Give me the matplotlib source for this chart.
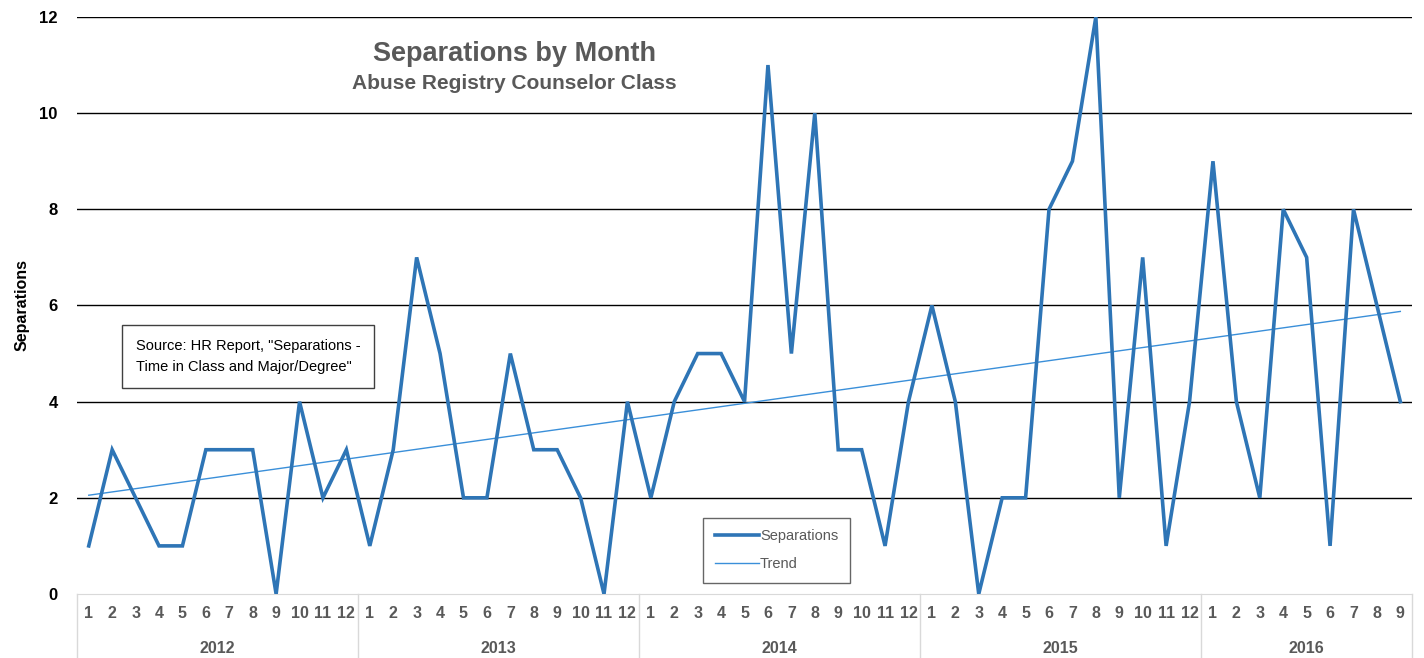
import numpy as np
import matplotlib
matplotlib.use("Agg")
from matplotlib import pyplot as plt
from matplotlib.lines import Line2D

# monthly separations, Jan 2012 .. Sep 2016
years = ["2012", "2013", "2014", "2015", "2016"]
months_per_year = [12, 12, 12, 12, 9]
sep_2012 = [1, 3, 2, 1, 1, 3, 3, 3, 0, 4, 2, 3]
sep_2013 = [1, 3, 7, 5, 2, 2, 5, 3, 3, 2, 0, 4]
sep_2014 = [2, 4, 5, 5, 4, 11, 5, 10, 3, 3, 1, 4]
sep_2015 = [6, 4, 0, 2, 2, 8, 9, 12, 2, 7, 1, 4]
sep_2016 = [9, 4, 2, 8, 7, 1, 8, 6, 4]
yticks = [0, 2, 4, 6, 8, 10, 12]

vals = np.array(sep_2012 + sep_2013 + sep_2014 + sep_2015 + sep_2016, dtype=float)
x = np.arange(len(vals))
month_labels = [str(m) for n in months_per_year for m in range(1, n + 1)]

# linear trend line (least squares, like Excel's trendline)
k, b = np.polyfit(x, vals, 1)
trend = k * x + b

plt.rcParams['font.family'] = ['Liberation Sans', 'DejaVu Sans']
gray = '#595959'
blue = '#2E75B6'

fig = plt.figure(figsize=(14.24, 6.58), dpi=100)
ax = fig.add_axes([0.0541, 0.0973, 0.9375, 0.8769])

for t in yticks[1:]:
    ax.axhline(t, color='black', lw=1.0, zorder=1)
ax.plot(x, vals, color=blue, lw=2.6, zorder=3, solid_joinstyle='miter')
ax.plot(x, trend, color='#3A8FD9', lw=1.0, zorder=2)

ax.set_xlim(-0.5, len(vals) - 0.5)
ax.set_ylim(0, 12)
ax.set_yticks(yticks)
ax.set_yticklabels([str(t) for t in yticks], fontsize=12, fontweight='bold')
ax.tick_params(axis='y', length=0, pad=14)
ax.set_xticks(x)
ax.set_xticklabels(month_labels, fontsize=11.5, fontweight='bold', color=gray)
ax.tick_params(axis='x', length=0, pad=9)
for s in ['top', 'right', 'left']:
    ax.spines[s].set_visible(False)
ax.spines['bottom'].set_color('#D9D9D9')
ax.spines['bottom'].set_zorder(0)

# category axis box and year separators
trans = ax.get_xaxis_transform()
edges = np.concatenate([[0], np.cumsum(months_per_year)]) - 0.5
for e in edges:
    ax.add_line(Line2D([e, e], [0, -0.2], transform=trans, color='#D9D9D9',
                       lw=1.0, clip_on=False))
for i, yr in enumerate(years):
    mid = (edges[i] + edges[i + 1]) / 2
    ax.text(mid, -0.094, yr, transform=trans, ha='center', va='center',
            fontsize=11.5, fontweight='bold', color=gray)

ax.set_ylabel('Separations', fontsize=11.5, fontweight='bold', labelpad=7)

fig.text(0.361, 0.918, 'Separations by Month', ha='center', va='center',
         fontsize=19.5, fontweight='bold', color=gray)
fig.text(0.361, 0.873, 'Abuse Registry Counselor Class', ha='center', va='center',
         fontsize=15, fontweight='bold', color=gray)

fig.text(0.0955, 0.458, 'Source: HR Report, "Separations -\nTime in Class and Major/Degree"',
         ha='left', va='center', fontsize=10.5, linespacing=1.65, color='black',
         bbox=dict(boxstyle='square,pad=0.95', fc='white', ec='#404040', lw=1))

handles = [Line2D([], [], color=blue, lw=2.6), Line2D([], [], color='#3A8FD9', lw=1.0)]
leg = ax.legend(handles, ['Separations', 'Trend'], loc='center',
                bbox_to_anchor=(0.524, 0.076), fontsize=10.5, frameon=True,
                fancybox=False, edgecolor='#404040', handlelength=3.0,
                handletextpad=0.1, borderpad=0.8, labelspacing=0.95,
                borderaxespad=0)
leg.get_frame().set_linewidth(1.0)
for t in leg.get_texts():
    t.set_color(gray)

fig.savefig('out.png', dpi=100)
